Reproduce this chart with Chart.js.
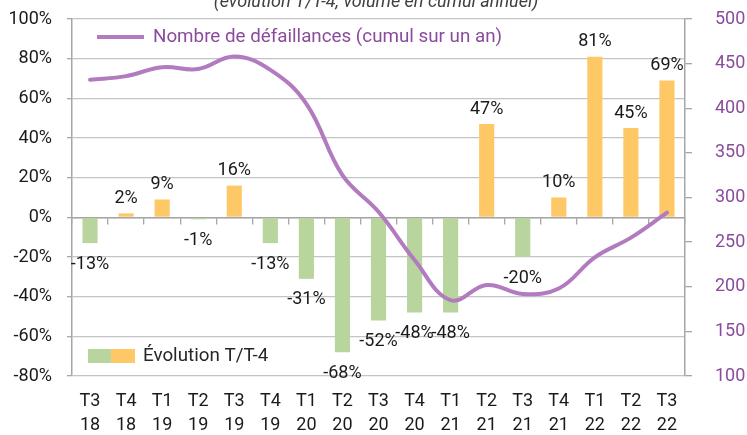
<!DOCTYPE html>
<html>
<head>
<meta charset="utf-8">
<script src="https://cdn.jsdelivr.net/npm/chart.js@4/dist/chart.umd.min.js"></script>
<style>
  html, body { margin: 0; padding: 0; background: #fff; }
  #wrap { width: 747px; height: 435px; }
</style>
</head>
<body>
<div id="wrap"><canvas id="chart" width="747" height="435"></canvas></div>
<script>
// quarters (two-line labels)
const quarters = [
    ['T3', '18'], ['T4', '18'], ['T1', '19'], ['T2', '19'], ['T3', '19'], ['T4', '19'],
    ['T1', '20'], ['T2', '20'], ['T3', '20'], ['T4', '20'], ['T1', '21'], ['T2', '21'],
    ['T3', '21'], ['T4', '21'], ['T1', '22'], ['T2', '22'], ['T3', '22']
];

// évolution T/T-4 in %
const evolution = [-13, 2, 9, -1, 16, -13, -31, -68, -52, -48, -48, 47, -20, 10, 81, 45, 69];

// nombre de défaillances (cumul sur un an)
const defaillances = [432, 436, 446, 444, 458, 443, 405, 325, 284, 230, 185, 202, 192, 198, 233, 255, 283];

const leftTicks = [-80, -60, -40, -20, 0, 20, 40, 60, 80, 100];
const rightTicks = [100, 150, 200, 250, 300, 350, 400, 450, 500];

const titleText = '(évolution T/T-4, volume en cumul annuel)';
const lineLabel = 'Nombre de défaillances (cumul sur un an)';
const barLabel = 'Évolution T/T-4';

const GREEN = '#b7d59c';
const ORANGE = '#ffc866';
const PURPLE_LINE = '#b27bbf';
const PURPLE_TEXT = '#8a4b9c';
const FONT = 'Roboto, "Liberation Sans", sans-serif';

// title (cut at the top), legends and value labels
const extras = {
    id: 'extras',
    afterDatasetsDraw(chart) {
        const ctx = chart.ctx;
        ctx.save();

        // title, mostly outside the picture
        ctx.font = 'italic 18px ' + FONT;
        ctx.fillStyle = '#404040';
        ctx.textAlign = 'center';
        ctx.textBaseline = 'alphabetic';
        ctx.fillText(titleText, 376, 7);

        // value labels on bars
        const meta = chart.getDatasetMeta(0);
        ctx.font = '18px ' + FONT;
        ctx.fillStyle = '#1a1a1a';
        ctx.textBaseline = 'middle';
        meta.data.forEach((bar, i) => {
            const v = evolution[i];
            const y = v >= 0 ? bar.y - 15 : bar.y + 21;
            ctx.fillText(v + '%', bar.x, y);
        });

        // line legend at top
        ctx.strokeStyle = PURPLE_LINE;
        ctx.lineWidth = 4;
        ctx.beginPath();
        ctx.moveTo(97, 37);
        ctx.lineTo(144, 37);
        ctx.stroke();
        ctx.font = '18.8px ' + FONT;
        ctx.fillStyle = PURPLE_TEXT;
        ctx.textAlign = 'left';
        ctx.fillText(lineLabel, 153, 37);

        // bar legend at bottom left
        ctx.fillStyle = GREEN;
        ctx.fillRect(88, 349, 23, 14);
        ctx.fillStyle = ORANGE;
        ctx.fillRect(111, 349, 24, 14);
        ctx.fillStyle = '#262626';
        ctx.fillText(barLabel, 143, 356);

        ctx.restore();
    }
};

// keep tick padding from pushing the plot area inwards
function fixWidth(w) {
    return function (scale) {
        scale.width = w;
        scale.paddingTop = 0;
        scale.paddingBottom = 0;
    };
}

const ctx = document.getElementById('chart').getContext('2d');
new Chart(ctx, {
    data: {
        labels: quarters,
        datasets: [
            {
                type: 'bar',
                label: barLabel,
                data: evolution,
                backgroundColor: evolution.map(v => v >= 0 ? ORANGE : GREEN),
                xAxisID: 'x',
                yAxisID: 'y',
                categoryPercentage: 1,
                barPercentage: 0.42,
                order: 2
            },
            {
                type: 'line',
                label: lineLabel,
                data: defaillances,
                borderColor: PURPLE_LINE,
                borderWidth: 4,
                pointRadius: 0,
                tension: 0.4,
                borderCapStyle: 'round',
                xAxisID: 'x',
                yAxisID: 'y1',
                order: 1
            }
        ]
    },
    options: {
        responsive: false,
        animation: false,
        layout: { padding: { top: 19, left: 0, right: 0, bottom: 0 } },
        plugins: {
            legend: { display: false },
            title: { display: false },
            tooltip: { enabled: false }
        },
        scales: {
            x: {
                type: 'category',
                position: 'bottom',
                offset: true,
                grid: { display: false, offset: true },
                border: { display: false },
                ticks: {
                    color: '#1a1a1a',
                    font: { family: FONT, size: 18, lineHeight: 1.333 },
                    padding: 6,
                    maxRotation: 0,
                    autoSkip: false
                },
                afterFit(scale) { scale.height = 59; }
            },
            x0: {
                type: 'category',
                position: { y: 0 },
                offset: true,
                grid: {
                    offset: true,
                    drawOnChartArea: false,
                    drawTicks: true,
                    tickLength: 6,
                    color: '#a6a6a6',
                    lineWidth: 1.3
                },
                border: { display: true, color: '#a6a6a6', width: 1.5 },
                ticks: { display: false }
            },
            y: {
                position: 'left',
                min: -80,
                max: 100,
                afterBuildTicks(scale) { scale.ticks = leftTicks.map(v => ({ value: v })); },
                grid: {
                    color: '#c4c4c4',
                    lineWidth: 1.3,
                    tickLength: 5,
                    tickColor: '#a6a6a6'
                },
                border: { color: '#a6a6a6', width: 1.5 },
                ticks: {
                    color: '#1a1a1a',
                    font: { family: FONT, size: 18 },
                    padding: 15,
                    callback: v => v + '%'
                },
                afterFit: fixWidth(72)
            },
            y1: {
                position: 'right',
                min: 100,
                max: 500,
                afterBuildTicks(scale) { scale.ticks = rightTicks.map(v => ({ value: v })); },
                grid: {
                    drawOnChartArea: false,
                    tickLength: 7,
                    color: '#a6a6a6',
                    lineWidth: 1.3
                },
                border: { color: '#a6a6a6', width: 1.5 },
                ticks: {
                    color: PURPLE_TEXT,
                    font: { family: FONT, size: 18 },
                    padding: 23
                },
                afterFit: fixWidth(62)
            }
        }
    },
    plugins: [extras]
});
</script>
</body>
</html>
